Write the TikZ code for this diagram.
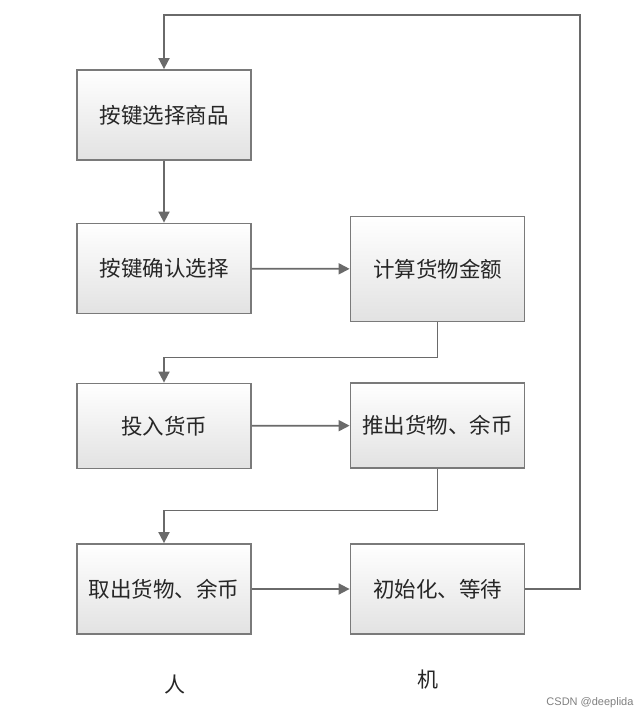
\documentclass[tikz,border=0pt]{standalone}
\usepackage{fontspec}
\newfontfamily\cjk{Noto Sans CJK SC}
\setsansfont{Liberation Sans}
\usetikzlibrary{arrows.meta}
\definecolor{linegray}{HTML}{6A6A6A}
\definecolor{boxborder}{HTML}{7A7A7A}
\definecolor{boxbottom}{HTML}{E2E2E2}
\begin{document}
\begin{tikzpicture}[x=1pt,y=-1pt,
  flowbox/.style={draw=boxborder,line width=1.8pt,top color=white,bottom color=boxbottom,
    minimum width=174pt,minimum height=90pt,inner sep=0pt,
    font=\cjk\fontsize{21.5}{21.5}\selectfont,text=black!85},
  conn/.style={draw=linegray,line width=1.8pt,-{Triangle[length=11pt,width=11pt]}},
  lbl/.style={font=\cjk\fontsize{21}{21}\selectfont,text=black!85}]
\useasboundingbox[fill=white] (0,0) rectangle (643,720);
\node[flowbox] (b1) at (164,115) {按键选择商品};
\node[flowbox] (b2) at (164,268.5) {按键确认选择};
\node[flowbox,minimum height=105pt] (b3) at (437.5,269) {计算货物金额};
\node[flowbox,minimum height=85pt] (b4) at (164,426) {投入货币};
\node[flowbox,minimum height=85pt] (b5) at (437.5,425.5) {推出货物、余币};
\node[flowbox] (b6) at (164,589) {取出货物、余币};
\node[flowbox] (b7) at (437.5,589) {初始化、等待};
\coordinate (r1) at (580,589);
\coordinate (r2) at (580,15);
\coordinate (r3) at (164,15);
\draw[conn] (b1) -- (b2);
\draw[conn] (b2) -- (b3);
\draw[conn] (b3.south) -- ++(0,35) -| (b4.north);
\draw[conn] (b4) -- (b5);
\draw[conn] (b5.south) -- ++(0,41.5) -| (b6.north);
\draw[conn] (b6) -- (b7);
\draw[conn] (b7.east) -- (r1) -- (r2) -- (r3) -- (b1.north);
\node[lbl] (h) at (175,685) {人};
\node[lbl] (m) at (428,680) {机};
\node[font=\sffamily\fontsize{11}{11}\selectfont,text=black!50,anchor=east] (w) at (637,703) {CSDN @deeplida};
\end{tikzpicture}
\end{document}
